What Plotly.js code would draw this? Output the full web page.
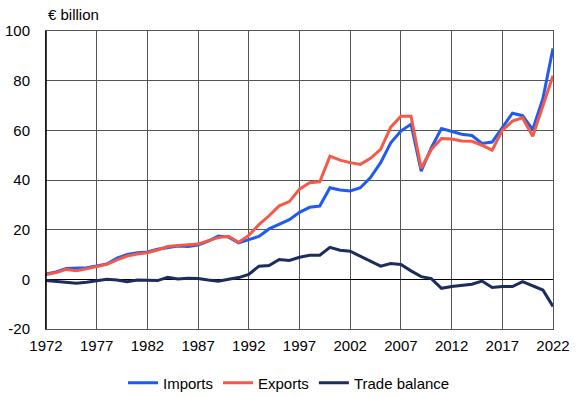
<!DOCTYPE html>
<html>
<head>
<meta charset="utf-8">
<script src="https://cdn.plot.ly/plotly-3.0.1.min.js"></script>
<style>html,body{margin:0;padding:0;background:#fff}#chart{width:578px;height:397px}</style>
</head>
<body>
<div id="chart"></div>
<script>
var years = [];
for (var y = 1972; y <= 2022; y++) years.push(y);

var imports = [2.1, 3.0, 4.4, 4.6, 4.7, 5.4, 6.2, 8.5, 10.0, 10.7,
  11.0, 12.1, 12.9, 13.4, 13.2, 13.8, 15.4, 17.4, 17.0, 14.7,
  16.0, 17.3, 20.3, 22.0, 24.0, 27.0, 29.0, 29.5, 36.9, 36.0,
  35.6, 36.9, 41.0, 47.0, 55.0, 59.7, 62.5, 43.6, 53.0, 60.7,
  59.6, 58.4, 57.9, 54.7, 55.3, 61.3, 66.9, 65.9, 60.3, 72.7, 93.0];

var exports = [1.9, 2.7, 4.0, 3.5, 4.3, 5.1, 6.0, 7.8, 9.4, 10.2,
  10.7, 11.8, 13.2, 13.6, 13.8, 14.2, 15.6, 16.8, 17.3, 14.9,
  17.7, 22.0, 25.6, 29.6, 31.3, 36.3, 38.9, 39.3, 49.6, 48.0,
  47.0, 46.3, 48.7, 52.3, 61.3, 65.7, 65.7, 44.7, 52.3, 56.7,
  56.5, 55.7, 55.6, 54.0, 52.0, 60.0, 63.7, 65.0, 57.6, 70.0, 82.0];

var balance = [-0.5, -0.8, -1.2, -1.6, -1.2, -0.5, 0.0, -0.3, -1.0, -0.3,
  -0.5, -0.5, 0.8, 0.1, 0.4, 0.3, -0.3, -0.8, 0.0, 0.7,
  2.0, 5.3, 5.6, 8.0, 7.6, 8.9, 9.7, 9.7, 12.9, 11.7,
  11.3, 9.3, 7.6, 5.3, 6.4, 6.0, 3.4, 1.1, 0.3, -3.6,
  -2.9, -2.4, -2.0, -0.7, -3.3, -2.9, -2.9, -0.9, -2.7, -4.3, -10.9];

var xTicks = [1972, 1977, 1982, 1987, 1992, 1997, 2002, 2007, 2012, 2017, 2022];
var yTicks = [-20, 0, 20, 40, 60, 80, 100];

var seriesNames = ['Imports', 'Exports', 'Trade balance'];
var seriesColors = ['#1f5bf0', '#f55a48', '#1c2c5e'];
var seriesData = [imports, exports, balance];

var traces = seriesData.map(function (d, i) {
  return {
    x: years, y: d, name: seriesNames[i], type: 'scatter', mode: 'lines',
    line: {color: seriesColors[i], width: 3}
  };
});

var font = {family: 'Liberation Sans, Arial, sans-serif', size: 15, color: '#000'};
var grid = '#555555';

var layout = {
  width: 578, height: 397,
  margin: {l: 46, r: 25, t: 31, b: 68, autoexpand: false},
  paper_bgcolor: '#fff', plot_bgcolor: '#fff',
  font: font,
  showlegend: true,
  legend: {orientation: 'h', x: 0.5, xanchor: 'center', xref: 'container',
           y: 14 / 397, yanchor: 'middle', yref: 'container',
           font: {family: font.family, size: 15, color: '#000'}, itemwidth: 30, tracegroupgap: 0},
  xaxis: {range: [1972, 2022], tickvals: xTicks, ticktext: xTicks.map(String),
          showgrid: true, gridcolor: grid, gridwidth: 1, zeroline: false,
          showline: true, linecolor: grid, linewidth: 1, mirror: true,
          ticks: '', ticklabelstandoff: 3, tickfont: font, fixedrange: true, automargin: false},
  yaxis: {range: [-20, 100], tickvals: yTicks, ticktext: yTicks.map(String),
          showgrid: true, gridcolor: grid, gridwidth: 1,
          zeroline: true, zerolinecolor: '#000', zerolinewidth: 1.5,
          showline: true, linecolor: grid, linewidth: 1, mirror: true,
          ticks: '', ticklabelstandoff: 12, tickfont: font, fixedrange: true, automargin: false},
  shapes: [{type: 'line', xref: 'paper', yref: 'paper', x0: 0, x1: 0, y0: 0, y1: 1,
            line: {color: '#000', width: 1.5}}],
  annotations: [{text: '€ billion', xref: 'paper', yref: 'paper', x: 0, y: 1,
                 xanchor: 'left', yanchor: 'bottom', yshift: 6, showarrow: false,
                 font: {family: font.family, size: 15, color: '#000'}}]
};

Plotly.newPlot('chart', traces, layout, {displayModeBar: false, staticPlot: true});
</script>
</body>
</html>
